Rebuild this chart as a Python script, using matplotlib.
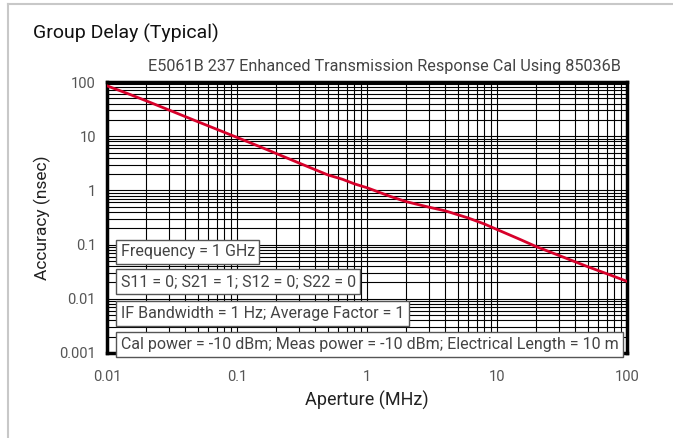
import matplotlib
matplotlib.use("Agg")
import matplotlib.pyplot as plt
from matplotlib.lines import Line2D

# aperture (MHz) vs group delay accuracy (nsec)
aperture = [0.01, 0.015, 0.02, 0.03, 0.05, 0.07, 0.1, 0.15, 0.2, 0.3, 0.5,
            0.65, 0.8, 1, 1.5, 2, 3, 4, 6, 8, 10, 15, 20, 30, 50, 70, 100]
accuracy = [85, 59, 45, 30.4, 18.5, 13.4, 9.5, 6.4, 4.8, 3.2, 1.93,
            1.6, 1.32, 1.12, 0.78, 0.62, 0.49, 0.42, 0.31, 0.24, 0.19,
            0.125, 0.092, 0.063, 0.039, 0.029, 0.021]

x_ticks = [0.01, 0.1, 1, 10, 100]
x_labels = ["0.01", "0.1", "1", "10", "100"]
y_ticks = [0.001, 0.01, 0.1, 1, 10, 100]
y_labels = ["0.001", "0.01", "0.1", "1", "10", "100"]

notes = ["Frequency = 1 GHz",
         "S11 = 0; S21 = 1; S12 = 0; S22 = 0",
         "IF Bandwidth = 1 Hz; Average Factor = 1",
         "Cal power = -10 dBm; Meas power = -10 dBm; Electrical Length = 10 m"]

plt.rcParams['font.family'] = ['Roboto', 'DejaVu Sans']

fig = plt.figure(figsize=(6.73, 4.38), dpi=100)
ax = fig.add_axes([107 / 673, 1 - 353 / 438, 520 / 673, 271 / 438])

ax.plot(aperture, accuracy, color="#d7002a", lw=2, zorder=3)
ax.set_xscale("log")
ax.set_yscale("log")
ax.set_xlim(0.01, 100)
ax.set_ylim(0.001, 100)

ax.grid(True, which="both", color="black", lw=0.8)
ax.set_axisbelow(True)
ax.set_xticks(x_ticks)
ax.set_xticklabels(x_labels)
ax.set_yticks(y_ticks)
ax.set_yticklabels(y_labels)
ax.tick_params(which="both", length=0, labelsize=10.5, colors="#555555", pad=8)
ax.tick_params(axis="x", pad=12)
for s in ax.spines.values():
    s.set_linewidth(2.5)

ax.set_xlabel("Aperture (MHz)", fontsize=13, color="#222222", labelpad=5)
ax.set_ylabel("Accuracy (nsec)", fontsize=12.5, color="#222222", labelpad=6)

ys = [0.373, 0.264, 0.146, 0.031]
for txt, yy in zip(notes, ys):
    ax.text(0.026, yy, txt, transform=ax.transAxes, fontsize=11.5,
            color="#444444", va="center", ha="left", zorder=5,
            bbox=dict(boxstyle="square,pad=0.3", fc="white", ec="#555555", lw=1))

fig.text(33 / 673, 1 - 33 / 438, "Group Delay (Typical)", fontsize=14,
         color="#111111", va="center", ha="left")
fig.text(384 / 673, 1 - 66 / 438,
         "E5061B 237 Enhanced Transmission Response Cal Using 85036B",
         fontsize=11.7, color="#444444", va="center", ha="center")

# light gray frame at the top and left edges
fig.add_artist(Line2D([8 / 673, 8 / 673], [0, 1 - 4 / 438], transform=fig.transFigure,
                      color="#c8c8c8", lw=1.5))
fig.add_artist(Line2D([8 / 673, 1], [1 - 4 / 438, 1 - 4 / 438], transform=fig.transFigure,
                      color="#c8c8c8", lw=1.5))

fig.savefig("out.png", dpi=100)
